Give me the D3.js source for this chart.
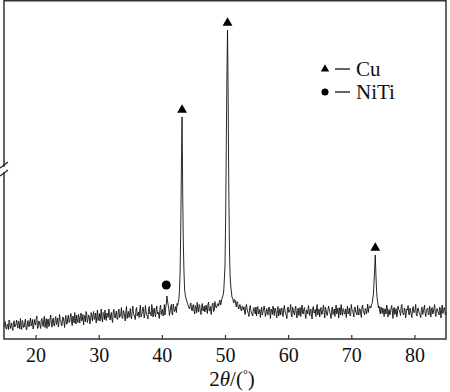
<!DOCTYPE html>
<html><head><meta charset="utf-8">
<script src="https://cdn.jsdelivr.net/npm/d3@7"></script>
<style>html,body{margin:0;padding:0;background:#fff;}svg{display:block;}</style>
</head><body>
<svg id="c" width="450" height="392"></svg>
<script>
// 2θ grid start/step (degrees) and diffraction intensity (a.u.)
const thetaStart = 15, thetaStep = 0.2;
// intensity at 15.0, 15.2, ... 85.0
const intensity = [
120,175,98,150,190,105,160,85,182,130,
190,110,155,205,95,165,120,200,90,185,
125,210,150,100,195,140,230,115,175,105,
205,125,228,160,105,200,140,240,118,210,
130,225,175,120,245,180,140,215,115,235,
150,240,170,255,135,215,265,150,195,245,
160,260,195,140,235,275,165,240,150,265,
180,275,210,160,290,215,180,300,170,255,
290,185,235,300,190,265,165,295,210,280,
195,300,230,315,205,270,180,325,255,215,
305,200,330,240,195,315,250,215,340,235,
320,210,335,245,200,325,265,345,220,310,
220,330,270,205,340,275,230,345,310,430,
340,235,320,260,350,275,325,355,370,500,
1150,2220,960,500,410,370,330,300,360,280,
345,250,310,365,270,335,245,355,290,270,
340,255,370,290,245,350,275,375,310,350,
330,390,360,420,480,740,1900,3090,1520,640,
480,410,360,390,320,365,300,345,280,330,
320,245,345,270,225,335,260,230,315,250,
230,325,270,215,320,265,330,225,305,240,
320,205,280,330,235,300,210,325,260,240,
310,225,335,255,205,320,270,345,220,290,
240,330,210,310,275,225,340,250,315,205,
285,335,235,300,200,325,260,225,345,275,
220,315,250,340,210,295,235,330,265,205,
320,255,225,340,280,210,315,345,235,295,
255,215,330,275,230,345,290,220,320,260,
335,240,300,215,340,270,305,250,350,310,
320,350,400,560,840,490,360,330,250,300,
310,225,300,340,220,295,255,335,205,315,
270,220,330,290,235,345,250,310,210,300,
335,240,280,215,325,265,345,230,310,255,
215,320,270,340,225,300,250,330,220,315,
270,345,225,305,260,320,210,340,275,300,
270
];
// intensity at the half steps 15.1, 15.3, ... 84.9
const intensityHalf = [
165,110,140,95,175,130,105,160,120,150,
135,180,100,140,185,115,170,105,150,125,
185,130,195,120,160,200,105,180,135,190,
150,195,115,205,180,125,210,150,190,135,
200,145,210,160,195,130,220,170,200,150,
210,165,225,180,230,160,205,240,165,220,
225,180,245,205,170,250,195,220,185,240,
240,195,260,225,185,255,230,200,265,195,
205,260,215,255,235,195,270,225,250,200,
270,215,255,210,285,230,265,205,275,245,
225,280,260,215,295,230,270,290,220,275,
290,240,275,225,305,250,230,300,280,245,
300,250,235,310,245,295,270,240,350,380,
300,270,345,240,310,290,265,335,400,700,
1750,1450,680,440,390,345,310,345,300,330,
280,335,260,300,345,265,315,280,330,300,
300,345,280,325,300,360,285,340,320,355,
370,340,400,440,600,1200,2600,2400,950,540,
420,380,395,345,375,310,340,300,325,290,
270,320,300,255,310,285,240,305,275,320,
300,250,295,280,240,300,285,260,275,310,
260,300,245,285,310,255,295,230,305,285,
250,300,280,240,310,265,295,230,320,260,
300,250,285,235,315,290,255,305,245,290,
250,300,275,230,310,260,295,315,240,300,
295,245,305,270,320,250,285,300,240,290,
245,300,285,250,310,275,240,280,305,250,
300,280,250,310,235,295,260,315,270,240,
260,305,250,320,275,240,300,285,265,330,
310,355,450,700,650,400,310,280,320,255,
280,300,250,315,270,240,310,280,300,245,
305,250,295,265,320,280,240,300,255,290,
250,310,245,300,265,290,240,305,270,240,
295,245,305,260,285,310,240,290,300,250,
310,250,295,275,240,300,285,255,315,240
];
// peak markers
const cuPeaks = [43.2, 50.4, 73.8];
const cuHeights = [2220, 3090, 840];
const nitiPeaks = [40.7];
const nitiHeights = [540];
const xTicks = [20, 30, 40, 50, 60, 70, 80];
const legendLabels = ["Cu", "NiTi"];

const data = [];
intensity.forEach((v, i) => {
  const t0 = thetaStart + i * thetaStep;
  data.push({t: t0, v});
  if (i < intensityHalf.length) data.push({t: t0 + thetaStep / 2, v: intensityHalf[i]});
});

const svg = d3.select("#c");
const font = "'Liberation Serif','Times New Roman',Times,serif";
const x = d3.scaleLinear().domain([15, 85]).range([4, 446]);
const y = d3.scaleLinear().domain([0, 3390]).range([339, 0]);

// spectrum line
svg.append("path").datum(data)
  .attr("d", d3.line().x(d => x(d.t)).y(d => y(d.v)))
  .attr("fill", "none").attr("stroke", "#111").attr("stroke-width", 0.9)
  .attr("stroke-linejoin", "round");

// frame
svg.append("rect").attr("x", 4).attr("y", 0.75).attr("width", 442).attr("height", 338.25)
  .attr("fill", "none").attr("stroke", "#333").attr("stroke-width", 1.5);

// axis
const ax = svg.append("g").attr("transform", "translate(0,339)")
  .call(d3.axisBottom(x).tickValues(xTicks).tickSizeInner(-4).tickSizeOuter(0).tickPadding(9).tickFormat(d3.format("d")));
ax.select(".domain").remove();
ax.selectAll(".tick line").attr("stroke", "#333").attr("stroke-width", 1.2);
ax.selectAll(".tick text").attr("font-family", font).attr("font-size", 20).attr("fill", "#111");

// axis break on left
svg.append("rect").attr("x", 1).attr("y", 167).attr("width", 6).attr("height", 5).attr("fill", "#fff");
[[168, 162], [176, 170]].forEach(([a, b]) => {
  svg.append("line").attr("x1", 0).attr("y1", a).attr("x2", 8).attr("y2", b)
    .attr("stroke", "#222").attr("stroke-width", 1.3);
});

// markers
const tri = d3.symbol().type(d3.symbolTriangle).size(42);
cuPeaks.forEach((p, i) => {
  svg.append("path").attr("d", tri())
    .attr("transform", `translate(${x(p)},${y(cuHeights[i]) - 7})`).attr("fill", "#000");
});
nitiPeaks.forEach((p, i) => {
  svg.append("circle").attr("cx", x(p)).attr("cy", y(nitiHeights[i])).attr("r", 4.5).attr("fill", "#000");
});

// legend
const lg = [{sym: "tri", y: 69}, {sym: "circ", y: 92}];
lg.forEach((d, i) => {
  if (d.sym === "tri") svg.append("path").attr("d", d3.symbol().type(d3.symbolTriangle).size(30)()).attr("transform", `translate(325,${d.y})`).attr("fill", "#000");
  else svg.append("circle").attr("cx", 325).attr("cy", d.y).attr("r", 3.5).attr("fill", "#000");
  svg.append("line").attr("x1", 335).attr("x2", 350).attr("y1", d.y).attr("y2", d.y).attr("stroke", "#111").attr("stroke-width", 1.3);
  svg.append("text").attr("x", 356).attr("y", d.y + 7).attr("font-family", font).attr("font-size", 21).attr("fill", "#111").text(legendLabels[i]);
});

// axis title
const t = svg.append("text").attr("x", 232).attr("y", 386).attr("text-anchor", "middle")
  .attr("font-family", font).attr("font-size", 21).attr("fill", "#111");
t.append("tspan").text("2");
t.append("tspan").attr("font-style", "italic").text("θ");
t.append("tspan").text("/(");
t.append("tspan").attr("font-size", 12).attr("dy", -8).text("°");
t.append("tspan").attr("dy", 8).text(")");
</script>
</body></html>
